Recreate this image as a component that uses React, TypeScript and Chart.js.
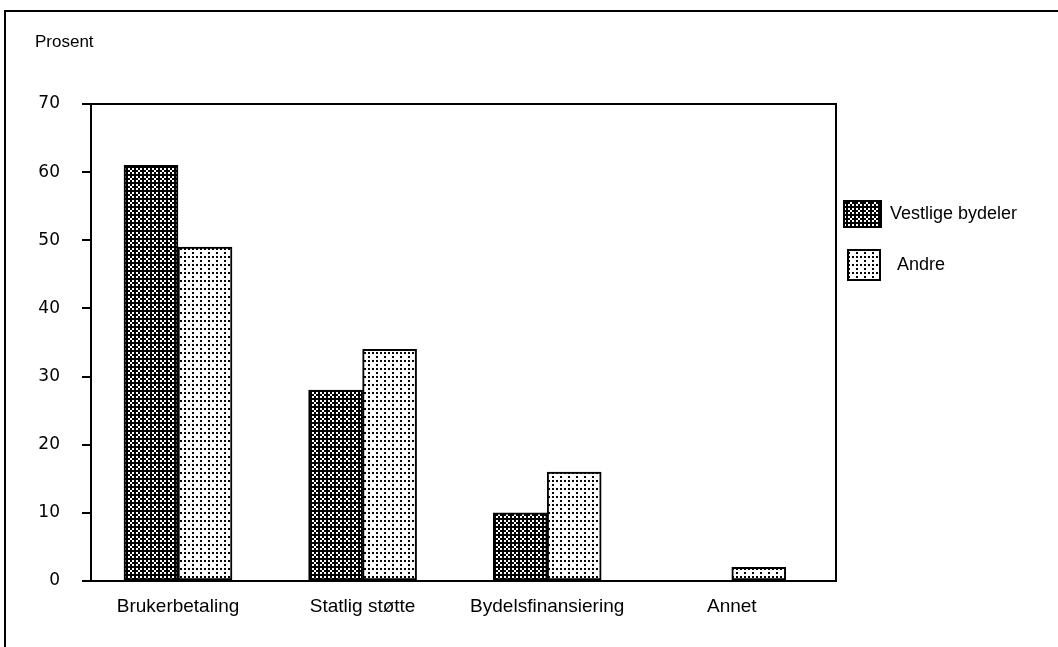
import React, { useEffect, useRef } from "react";
import { Chart, registerables } from "chart.js";

Chart.register(...registerables);

const categories = ["Brukerbetaling", "Statlig støtte", "Bydelsfinansiering", "Annet"];
const seriesNames = ["Vestlige bydeler", "Andre"];
const vestligeValues = [61, 28, 10, 0];
const andreValues = [49, 34, 16, 2];
const yMin = 0;
const yMax = 70;
const yStep = 10;
const yAxisLabel = "Prosent";

const W = 1058;
const H = 647;

const vestligeTile = [
  "0101",
  "1011",
  "0101",
  "1111",
];
const andreTile = [
  "1010",
  "0000",
  "1000",
  "0000",
];

function makePattern(rows: string[], px: number): CanvasPattern | string {
  const c = document.createElement("canvas");
  c.width = rows[0].length * px;
  c.height = rows.length * px;
  const ctx = c.getContext("2d");
  if (!ctx) return "#888";
  ctx.fillStyle = "#fff";
  ctx.fillRect(0, 0, c.width, c.height);
  ctx.fillStyle = "#000";
  rows.forEach((r, y) =>
    [...r].forEach((ch, x) => {
      if (ch === "1") ctx.fillRect(x * px, y * px, px, px);
    })
  );
  return ctx.createPattern(c, "repeat") || "#888";
}

const textFont = "'Liberation Sans', Arial, sans-serif";

export default function App() {
  const ref = useRef<HTMLCanvasElement>(null);

  useEffect(() => {
    document.body.style.margin = "0";
    const canvas = ref.current;
    if (!canvas) return;
    const pVest = makePattern(vestligeTile, 2);
    const pAndre = makePattern(andreTile, 2);

    const decor = {
      id: "decor",
      beforeDraw(chart: any) {
        const { ctx } = chart;
        ctx.save();
        ctx.fillStyle = "#fff";
        ctx.fillRect(0, 0, chart.width, chart.height);
        ctx.strokeStyle = "#000";
        ctx.lineWidth = 2;
        ctx.beginPath();
        ctx.moveTo(5, chart.height);
        ctx.lineTo(5, 11);
        ctx.lineTo(chart.width, 11);
        ctx.stroke();
        ctx.fillStyle = "#000";
        ctx.font = "17px " + textFont;
        ctx.textBaseline = "middle";
        ctx.textAlign = "left";
        ctx.fillText(yAxisLabel, 35, 42);
        ctx.restore();
      },
      afterDatasetsDraw(chart: any) {
        const { ctx, chartArea: a } = chart;
        ctx.save();
        ctx.strokeStyle = "#000";
        ctx.lineWidth = 2;
        ctx.strokeRect(a.left, a.top, a.right - a.left, a.bottom - a.top);
        const items = [
          { fill: pVest, bx: a.right + 8, by: 201, bw: 37, bh: 26, tx: a.right + 54, ty: 214 },
          { fill: pAndre, bx: a.right + 12, by: 250, bw: 32, bh: 30, tx: a.right + 61, ty: 265 },
        ];
        items.forEach((it, i) => {
          ctx.fillStyle = it.fill;
          ctx.fillRect(it.bx, it.by, it.bw, it.bh);
          ctx.strokeRect(it.bx, it.by, it.bw, it.bh);
          ctx.fillStyle = "#000";
          ctx.font = "18px " + textFont;
          ctx.textBaseline = "middle";
          ctx.textAlign = "left";
          ctx.fillText(seriesNames[i], it.tx, it.ty);
        });
        ctx.restore();
      },
    };

    const chart = new Chart(canvas, {
      type: "bar",
      data: {
        datasets: [
          {
            label: seriesNames[0],
            data: categories.map((_, i) => ({ x: i, y: vestligeValues[i] })),
            backgroundColor: pVest as any,
            borderColor: "#000",
            borderWidth: 2,
            borderSkipped: false,
            barThickness: 54,
          },
          {
            label: seriesNames[1],
            data: categories.map((_, i) => ({ x: i, y: andreValues[i] })),
            backgroundColor: pAndre as any,
            borderColor: "#000",
            borderWidth: 2,
            borderSkipped: false,
            barThickness: 54,
          },
        ],
      },
      options: {
        responsive: false,
        animation: false,
        layout: { padding: { top: 104, right: 222, left: 0, bottom: 0 } },
        plugins: { legend: { display: false }, tooltip: { enabled: false }, title: { display: false } },
        scales: {
          x: {
            type: "linear",
            min: -0.4713,
            max: 3.5645,
            offset: false,
            grid: { display: false, drawTicks: false },
            border: { display: false },
            afterBuildTicks: (scale: any) => {
              scale.ticks = categories.map((_, i) => ({ value: i }));
            },
            afterFit: (scale: any) => {
              scale.height = 66;
            },
            ticks: {
              color: "#000",
              font: { family: textFont, size: 19 },
              padding: 14,
              autoSkip: false,
              maxRotation: 0,
              callback: (v: any) => categories[Math.round(Number(v))] ?? "",
            },
          },
          y: {
            min: yMin,
            max: yMax,
            grid: { drawOnChartArea: false, drawTicks: true, tickLength: 9, color: "#000", lineWidth: 2 },
            border: { display: false },
            afterFit: (scale: any) => {
              scale.width = 91;
            },
            ticks: {
              stepSize: yStep,
              color: "#000",
              padding: 22,
              font: { family: "'DejaVu Sans', sans-serif", size: 17 },
            },
          },
        },
      },
      plugins: [decor],
    } as any);

    return () => chart.destroy();
  }, []);

  return <canvas ref={ref} width={W} height={H} style={{ display: "block" }} />;
}
